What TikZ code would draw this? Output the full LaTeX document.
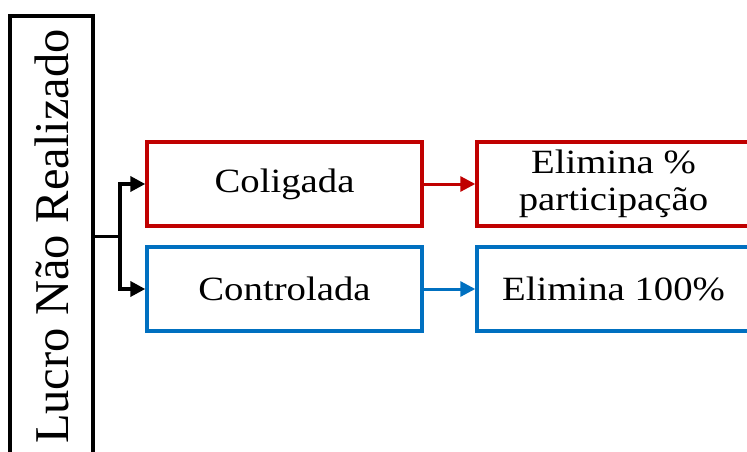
\documentclass[tikz,border=0pt]{standalone}
\usepackage{fontspec}
\setmainfont{Liberation Serif}
\newfontfamily\boxfont[FakeStretch=1.14]{Liberation Serif}
\usetikzlibrary{arrows.meta}
\definecolor{cRed}{HTML}{C00000}
\definecolor{cBlue}{HTML}{0070C0}
\begin{document}
\begin{tikzpicture}[x=1pt,y=1pt,
  mainbox/.style={draw=black,line width=3.6pt,minimum width=441pt,minimum height=83pt,
    inner sep=0pt,font=\fontsize{48.5}{50}\selectfont},
  catbox/.style={line width=3.4pt,minimum width=275pt,minimum height=84pt,inner sep=0pt,
    align=center,font=\boxfont\fontsize{34}{37}\selectfont},
  redbox/.style={catbox,draw=cRed},
  bluebox/.style={catbox,draw=cBlue},
  tip/.style={-{Triangle[length=15pt,width=15pt]}},
  blackline/.style={line width=3.6pt,black},
  redline/.style={line width=3pt,cRed},
  blueline/.style={line width=3pt,cBlue}]
\useasboundingbox (0,0) rectangle (747,451);
\clip (0,0) rectangle (747,451);

% main vertical box
\node[mainbox,rotate=90] (lucro) at (51.5,214.5) {Lucro Não Realizado};

% category boxes
\node[redbox] (col) at (284.5,267) {Coligada};
\node[bluebox] (con) at (284.5,162) {Controlada};

% result boxes
\node[redbox,minimum width=273pt] (elp) at (613.5,267) {Elimina \%\\participação};
\node[bluebox,minimum width=273pt] (elc) at (613.5,162) {Elimina 100\%};

% branching connectors
\coordinate (fork) at (120,214.5);
\draw[blackline] (lucro.south) -- (fork);
\draw[blackline,tip,line cap=butt] (fork) |- (col.west);
\draw[blackline,tip] (fork) |- (con.west);

\draw[redline,tip] (col.east) -- (elp.west);
\draw[blueline,tip] (con.east) -- (elc.west);
\end{tikzpicture}
\end{document}
